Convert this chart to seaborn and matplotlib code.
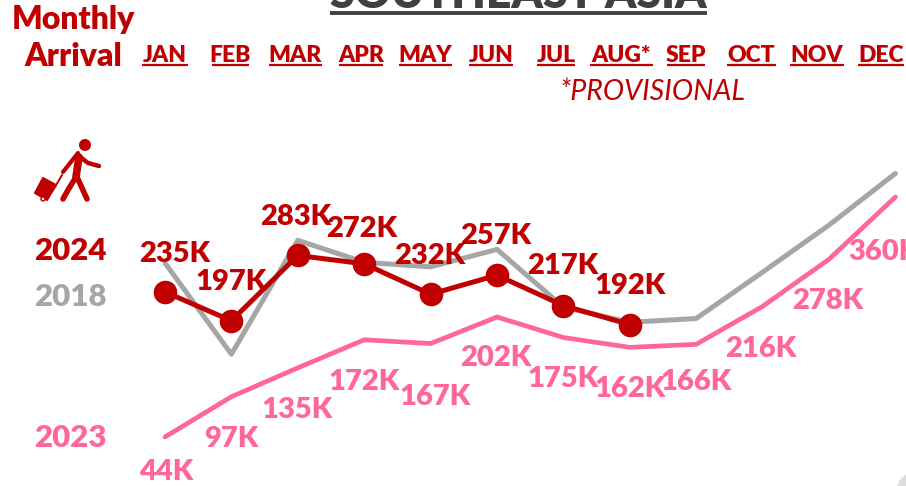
from matplotlib import pyplot as plt
from matplotlib.patches import Circle, Polygon
import seaborn as sns

import pandas as pd

MONTHS = ["JAN", "FEB", "MAR", "APR", "MAY", "JUN", "JUL", "AUG*", "SEP", "OCT", "NOV", "DEC"]
values_2018 = [273, 153, 303, 274, 268, 291, 215, 195, 200, 261, 323, 391]
values_2023 = [44, 97, 135, 172, 167, 202, 175, 162, 166, 216, 278, 360]
values_2024 = [235, 197, 283, 272, 232, 257, 217, 192]

RED = "#C00000"
GRAY = "#A6A6A6"
PINK = "#FF6699"
DARK = "#404040"
FONT = "Lato"

# label offsets from the point, in pixels (dx, dy up)
offsets_2024 = [(10, 38), (0, 39), (-2, 38), (-3, 35), (-1, 38), (-1, 39), (-1, 40), (0, 39)]
offsets_2023 = [(1, -35), (0, -42), (-1, -42), (0, -42), (5, -53), (-1, -41),
                (0, -42), (0, -42), (0, -38), (-2, -43), (-1, -42), (-12, -55)]
# header positions do not line up with the points
month_left = [142, 212, 269, 339, 399, 469, 537, 590, 667, 727, 790, 858]
month_right = [188, 249, 322, 383, 452, 513, 575, 653, 705, 776, 844, 904]

df = pd.concat([
    pd.DataFrame({"month": range(len(v)), "value": v, "year": y})
    for y, v in [("2018", values_2018), ("2023", values_2023), ("2024", values_2024)]
])

sns.set_theme(style="white")
plt.rcParams["font.family"] = [FONT, "DejaVu Sans"]

fig = plt.figure(figsize=(9.06, 4.86), dpi=100)
ax = fig.add_axes([0, 0, 1, 1])
ax.patch.set_alpha(0)

sns.lineplot(data=df[df.year == "2018"], x="month", y="value", color=GRAY, linewidth=3.6,
             solid_capstyle="round", ax=ax, zorder=2)
sns.lineplot(data=df[df.year == "2023"], x="month", y="value", color=PINK, linewidth=3.4,
             solid_capstyle="round", ax=ax, zorder=3)
sns.lineplot(data=df[df.year == "2024"], x="month", y="value", color=RED, linewidth=3.6,
             marker="o", markersize=17, markeredgewidth=0, ax=ax, zorder=4)

# one month = 66.4 px, first point at 165 px; 1K = 0.7595 px, zero at 470.4 px
ax.set_xlim(-165 / 66.4, (906 - 165) / 66.4)
ax.set_ylim((470.4 - 486) / 0.7595, 470.4 / 0.7595)
ax.axis("off")

for i, (v, off) in enumerate(zip(values_2024, offsets_2024)):
    ax.annotate(f"{v}K", (i, v), xytext=(off[0] * 0.72, off[1] * 0.72), textcoords="offset points",
                ha="center", va="center", color=RED, fontsize=21, fontweight="heavy", zorder=5)
for i, (v, off) in enumerate(zip(values_2023, offsets_2023)):
    ax.annotate(f"{v}K", (i, v), xytext=(off[0] * 0.72, off[1] * 0.72), textcoords="offset points",
                ha="center", va="center", color=PINK, fontsize=21, fontweight="heavy", zorder=5,
                annotation_clip=False)

# overlay in reference pixels for the header, legend and icon
px = fig.add_axes([0, 0, 1, 1])
px.set_xlim(0, 906)
px.set_ylim(486, 0)
px.axis("off")
px.patch.set_alpha(0)

px.text(518, 8, "SOUTHEAST ASIA", ha="center", va="baseline", color=DARK, fontsize=32, fontweight="heavy")
px.plot([330, 707], [13, 13], color=DARK, linewidth=2.8, solid_capstyle="butt")

px.text(73, 19, "Monthly", ha="center", va="center", color=RED, fontsize=23, fontweight="heavy")
px.text(73, 57, "Arrival", ha="center", va="center", color=RED, fontsize=23, fontweight="heavy")

for name, left, right in zip(MONTHS, month_left, month_right):
    px.text((left + right) / 2, 62, name, ha="center", va="baseline", color=RED, fontsize=16.5, fontweight="heavy")
    px.plot([left, right], [65.5, 65.5], color=RED, linewidth=1.6, solid_capstyle="butt")

px.text(653, 92, "*PROVISIONAL", ha="center", va="center", color=RED, fontsize=20.5, fontstyle="italic", fontweight="normal")

px.text(70, 251, "2024", ha="center", va="center", color=RED, fontsize=22.5, fontweight="heavy")
px.text(70, 297, "2018", ha="center", va="center", color=GRAY, fontsize=22.5, fontweight="heavy")
px.text(70, 438, "2023", ha="center", va="center", color=PINK, fontsize=22.5, fontweight="heavy")

# traveller icon
px.add_patch(Circle((85, 145), 6, color=RED, lw=0))
limbs = [
    ([78, 63], [153, 172], 3.0),
    ([79, 88, 99], [156, 163, 166], 3.2),
    ([79, 76], [157, 177], 5.5),
    ([76, 68, 63], [177, 190, 199], 4.0),
    ([77, 87], [177, 199], 4.0),
    ([55, 62], [187, 175], 1.4),
]
for xs, ys, lw in limbs:
    px.plot(xs, ys, color=RED, linewidth=lw, solid_capstyle="round", solid_joinstyle="round")
px.add_patch(Polygon([(43, 178), (56, 185), (47, 200), (35, 193)], closed=True, color=RED, lw=1.5, joinstyle="round"))
px.add_patch(Circle((43, 199), 2, facecolor="white", edgecolor=RED, lw=1))

# bit of a shape cut off by the corner
px.add_patch(Circle((916, 492), 20, color="#DDDDDD", lw=0))

fig.savefig("out.png", dpi=100)
